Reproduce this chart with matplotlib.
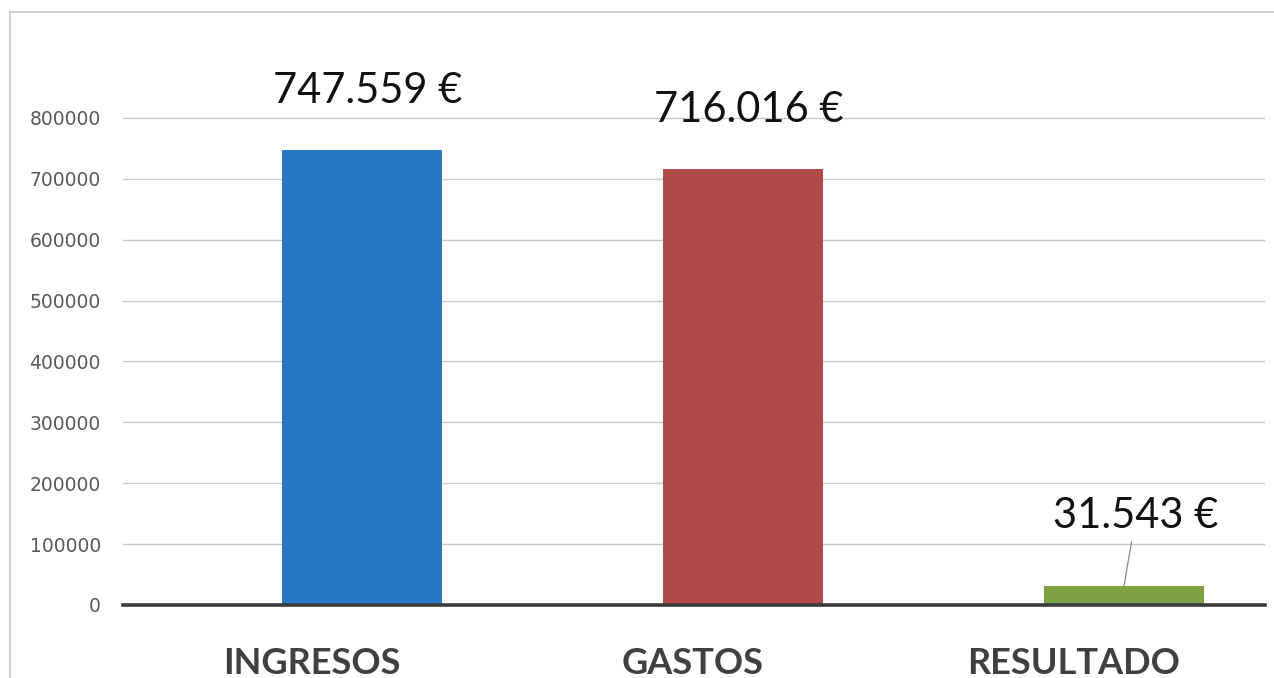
import matplotlib.pyplot as plt
from matplotlib import patches, transforms

categories = ['INGRESOS', 'GASTOS', 'RESULTADO']
values = [747559, 716016, 31543]
value_labels = ['747.559 €', '716.016 €', '31.543 €']
yticks = [0, 100000, 200000, 300000, 400000, 500000, 600000, 700000, 800000]

colors = ['#2878C8', '#B04A4A', '#7EA142']

fig = plt.figure(figsize=(12.74, 6.78), dpi=100)
ax = fig.add_axes([123/1274, 73/678, 1142/1274, (605-57)/678])

x = range(len(categories))
bars = ax.bar(x, values, width=0.42, color=colors, zorder=3)

ax.set_xlim(-0.627, 2.37)
ax.set_ylim(0, 900000)
ax.set_yticks(yticks)
ax.set_yticklabels([str(v) for v in yticks], fontsize=13.5, color='#595959',
                   family='DejaVu Sans')
ax.set_xticks(list(x))
ax.set_xticklabels(categories, fontsize=26, fontweight='bold', color='#404040',
                   family='Lato')
ax.tick_params(axis='y', length=0, pad=16)
ax.tick_params(axis='x', length=0, pad=30)

# category labels sit a bit left of the bars in the original
shift = transforms.ScaledTranslation(-50/100, 0, fig.dpi_scale_trans)
for lab in ax.get_xticklabels():
    lab.set_transform(lab.get_transform() + shift)

ax.grid(axis='y', color='#C8C8C8', lw=1, zorder=0)
for s in ['top', 'right', 'left']:
    ax.spines[s].set_visible(False)
ax.spines['bottom'].set_color('#3a3a3a')
ax.spines['bottom'].set_linewidth(2.6)
ax.spines['bottom'].set_zorder(4)

# value labels, the small one gets a leader line
for i, (b, lab) in enumerate(zip(bars, value_labels)):
    xc = b.get_x() + b.get_width() / 2
    top = b.get_height()
    if i == 2:
        ax.annotate(lab, (xc, top), xytext=(12, 58), textcoords='offset pixels',
                    ha='center', va='baseline', fontsize=30, family='Lato',
                    color='#111111',
                    arrowprops=dict(arrowstyle='-', color='#8a8a8a', lw=0.9,
                                    shrinkA=3, shrinkB=0))
    else:
        ax.annotate(lab, (xc, top), xytext=(6, 47), textcoords='offset pixels',
                    ha='center', va='baseline', fontsize=30, family='Lato',
                    color='#111111')

# outer chart border
fig.patches.append(patches.Rectangle((10/1274, -0.05), 1.1, (666+34)/678,
                                     transform=fig.transFigure, fill=False,
                                     edgecolor='#D0D0D0', lw=1.5))

fig.savefig('out.png', dpi=100, facecolor='white')
